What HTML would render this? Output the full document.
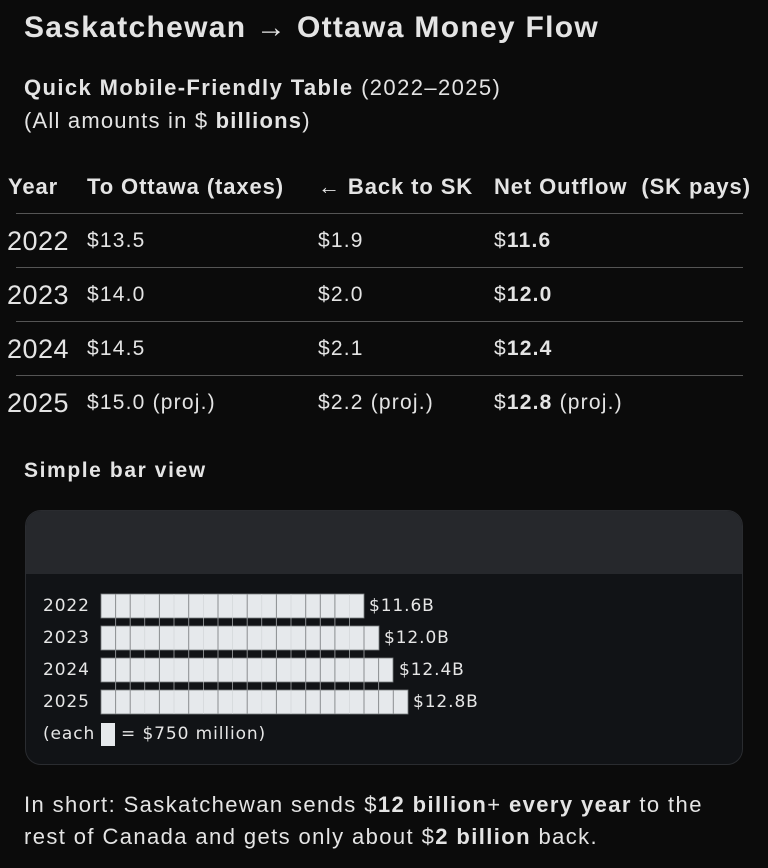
<!DOCTYPE html>
<html><head><meta charset="utf-8"><style>
*{margin:0;padding:0;box-sizing:border-box}
body{width:768px;height:868px;background:#0b0b0b;color:#e4e4e4;font-family:"Liberation Sans",sans-serif;position:relative;overflow:hidden}
.a{position:absolute;white-space:nowrap}
b{font-weight:bold}
.h{font-weight:bold;font-size:22px;top:174px;letter-spacing:0.9px}
.line{position:absolute;left:16px;width:727px;height:1px;background:#555}
.r{font-size:21px;letter-spacing:1.2px}
.y{font-size:27px;letter-spacing:0.5px}
.card{position:absolute;left:25px;top:510px;width:718px;height:255px;border-radius:16px;background:#111316;border:1px solid #2a2c30;overflow:hidden}
.card .hd{height:63px;background:#26282c}
.m{font-family:"DejaVu Sans","Liberation Sans",sans-serif;font-size:17px;color:#e6e6e6;letter-spacing:0.9px}
.p{font-size:22px;letter-spacing:1.4px}
</style></head><body>
<div class="a" style="left:24px;top:11px;font-size:30px;font-weight:bold;letter-spacing:1.3px">Saskatchewan → Ottawa Money Flow</div>
<div class="a" style="left:24px;top:75px;font-size:22px;letter-spacing:1.4px"><b>Quick Mobile-Friendly Table</b> (2022–2025)</div>
<div class="a" style="left:24px;top:108px;font-size:22px;letter-spacing:1.2px">(All amounts in $ <b>billions</b>)</div>

<div class="a h" style="left:8px">Year</div>
<div class="a h" style="left:87px">To Ottawa (taxes)</div>
<div class="a h" style="left:318px">← Back to SK</div>
<div class="a h" style="left:494px">Net Outflow&nbsp; (SK pays)</div>
<div class="line" style="top:213px"></div>
<div class="line" style="top:267px"></div>
<div class="line" style="top:321px"></div>
<div class="line" style="top:375px"></div>

<div class="a y" style="left:7px;top:226px">2022</div><div class="a r" style="left:87px;top:229px">$13.5</div><div class="a r" style="left:318px;top:229px">$1.9</div><div class="a r" style="left:494px;top:229px">$<b>11.6</b></div>
<div class="a y" style="left:7px;top:280px">2023</div><div class="a r" style="left:87px;top:283px">$14.0</div><div class="a r" style="left:318px;top:283px">$2.0</div><div class="a r" style="left:494px;top:283px">$<b>12.0</b></div>
<div class="a y" style="left:7px;top:334px">2024</div><div class="a r" style="left:87px;top:337px">$14.5</div><div class="a r" style="left:318px;top:337px">$2.1</div><div class="a r" style="left:494px;top:337px">$<b>12.4</b></div>
<div class="a y" style="left:7px;top:388px">2025</div><div class="a r" style="left:87px;top:391px">$15.0 (proj.)</div><div class="a r" style="left:318px;top:391px">$2.2 (proj.)</div><div class="a r" style="left:494px;top:391px">$<b>12.8</b> (proj.)</div>

<div class="a" style="left:24px;top:459px;font-size:21px;font-weight:bold;letter-spacing:1.6px">Simple bar view</div>

<div class="card"><div class="hd"></div></div>
<div class="a m" style="left:43px;top:596px">2022</div>
<div class="a m" style="left:43px;top:628px">2023</div>
<div class="a m" style="left:43px;top:660px">2024</div>
<div class="a m" style="left:43px;top:692px">2025</div>
<div class="a m" style="left:369px;top:596px">$11.6B</div>
<div class="a m" style="left:384px;top:628px">$12.0B</div>
<div class="a m" style="left:399px;top:660px">$12.4B</div>
<div class="a m" style="left:413px;top:692px">$12.8B</div>
<div class="a m" style="left:43px;top:724px">(each</div>
<div class="a" style="left:101px;top:723px;width:14px;height:23px;background:#e6e9ec"></div>
<div class="a m" style="left:121px;top:724px">= $750 million)</div>
<svg class="a" style="left:0;top:0" width="768" height="868">
<g fill="#e6e9ec" stroke="#7a7d80" stroke-width="0.8">
<rect x="101" y="594" width="263" height="24"/><rect x="101" y="626" width="278" height="24"/><rect x="101" y="658" width="292" height="24"/><rect x="101" y="690" width="307" height="24"/>
</g>
<g stroke="#8a8d90" stroke-width="1">
<path d="M115.6 594V714M130.2 594V714M159.4 594V714M188.7 594V714M218 594V714M247.2 594V714M276.4 594V714M305.7 594V714M320.3 594V714M334.9 594V714M364 626V714M378.6 658V714M393.3 690V714"/>
</g>
<g stroke="#cfd2d5" stroke-width="0.6">
<path d="M144.8 594V714M174 594V714M203.3 594V714M232.6 594V714M261.8 594V714M291 594V714M349.5 594V714"/>
</g>
</svg>
<div class="a p" style="left:24px;top:792px">In short: Saskatchewan sends $<b>12 billion</b>+ <b>every year</b> to the</div>
<div class="a p" style="left:24px;top:824px">rest of Canada and gets only about $<b>2 billion</b> back.</div>
</body></html>
